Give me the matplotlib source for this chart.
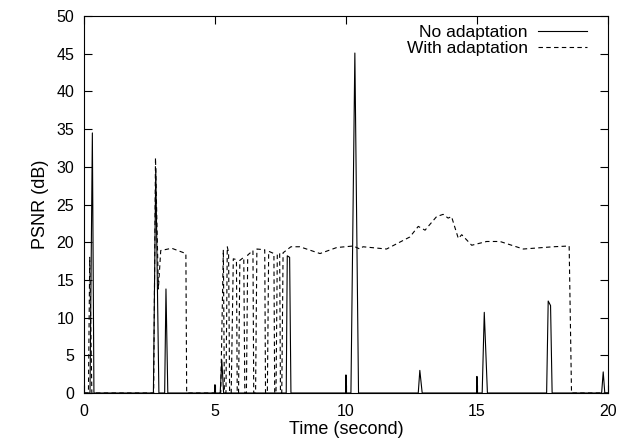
import numpy as np
import matplotlib
matplotlib.use("Agg")
import matplotlib.pyplot as plt

plt.rcParams['font.family'] = ['Liberation Sans', 'DejaVu Sans']

# No adaptation (solid)
t_no = [0.0, 0.23, 0.32, 0.38, 2.65, 2.74, 2.86, 3.08, 3.13, 3.20,
        4.98, 5.00, 5.02, 5.20, 5.26, 5.33, 7.72, 7.76, 7.85, 7.90,
        9.99, 10.00, 10.01, 10.19, 10.34, 10.48, 12.76, 12.82, 12.91,
        14.99, 15.00, 15.01, 15.20, 15.28, 15.40, 17.66, 17.72, 17.81, 17.87,
        19.76, 19.82, 19.88, 20.0]
psnr_no = [0, 0, 34.5, 0, 0, 29.8, 0, 0, 13.8, 0,
           0, 1.1, 0, 0, 4.4, 0, 0, 18.2, 18.0, 0,
           0, 2.4, 0, 0, 45.1, 0, 0, 3.0, 0,
           0, 2.2, 0, 0, 10.7, 0, 0, 12.2, 11.6, 0,
           0, 2.8, 0, 0]

# With adaptation (dashed)
t_ad = [0.0, 0.17, 0.22, 0.30, 2.66, 2.73, 2.84, 2.93, 3.35, 3.89, 3.92,
        5.22, 5.32, 5.36, 5.42, 5.47, 5.52, 5.56, 5.62, 5.70, 5.82, 5.85,
        5.90, 5.95, 6.10, 6.14, 6.20, 6.25, 6.45, 6.48, 6.55, 6.60, 6.90,
        6.93, 7.00, 7.05, 7.25, 7.28, 7.33, 7.38, 7.47, 7.50, 7.55, 7.60,
        7.90, 8.24, 9.01, 9.65, 10.28, 10.53, 10.65, 11.55, 12.44, 12.76,
        13.02, 13.14, 13.46, 13.71, 13.90, 14.03, 14.29, 14.42, 14.80,
        15.37, 15.88, 16.77, 17.91, 18.52, 18.61, 20.0]
psnr_ad = [0, 0, 18.0, 0, 0, 31.2, 13.8, 18.9, 19.2, 18.5, 0,
           0, 19.0, 0, 0, 19.4, 18.6, 0, 0, 17.8, 17.7, 0,
           0, 17.6, 18.0, 0, 0, 18.3, 18.9, 0, 0, 19.1, 19.0,
           0, 0, 18.8, 18.5, 0, 0, 18.5, 18.5, 0, 0, 18.6,
           19.4, 19.4, 18.5, 19.3, 19.5, 19.1, 19.4, 19.1, 20.7, 22.1,
           21.6, 22.1, 23.4, 23.7, 23.2, 23.4, 20.5, 21.0, 19.6,
           20.1, 20.1, 19.1, 19.4, 19.5, 0, 0]

fig = plt.figure(figsize=(6.29, 4.47), dpi=100)
ax = fig.add_axes([0.1335, 0.1208, 0.8330, 0.8432])

ax.plot(t_no, psnr_no, color="black", lw=0.8, label="No adaptation")
ax.plot(t_ad, psnr_ad, color="black", lw=0.8, dashes=(4, 3), label="With adaptation")

ax.set_xlim(0, 20)
ax.set_ylim(0, 50)
ax.set_xticks(np.arange(0, 21, 5))
ax.set_yticks(np.arange(0, 51, 5))
ax.tick_params(direction="in", top=True, right=True, labelsize=11.5,
               length=6, pad=7)
ax.tick_params(axis="x", pad=8)
ax.set_xlabel("Time (second)", fontsize=13, labelpad=1)
ax.set_ylabel("PSNR (dB)", fontsize=13, labelpad=5)

ax.legend(loc="upper right", bbox_to_anchor=(0.96, 0.977), frameon=False,
          markerfirst=False, fontsize=12.5, handlelength=2.8,
          handletextpad=0.6, borderaxespad=0, borderpad=0, labelspacing=0.05)

plt.savefig("out.png", dpi=100)
